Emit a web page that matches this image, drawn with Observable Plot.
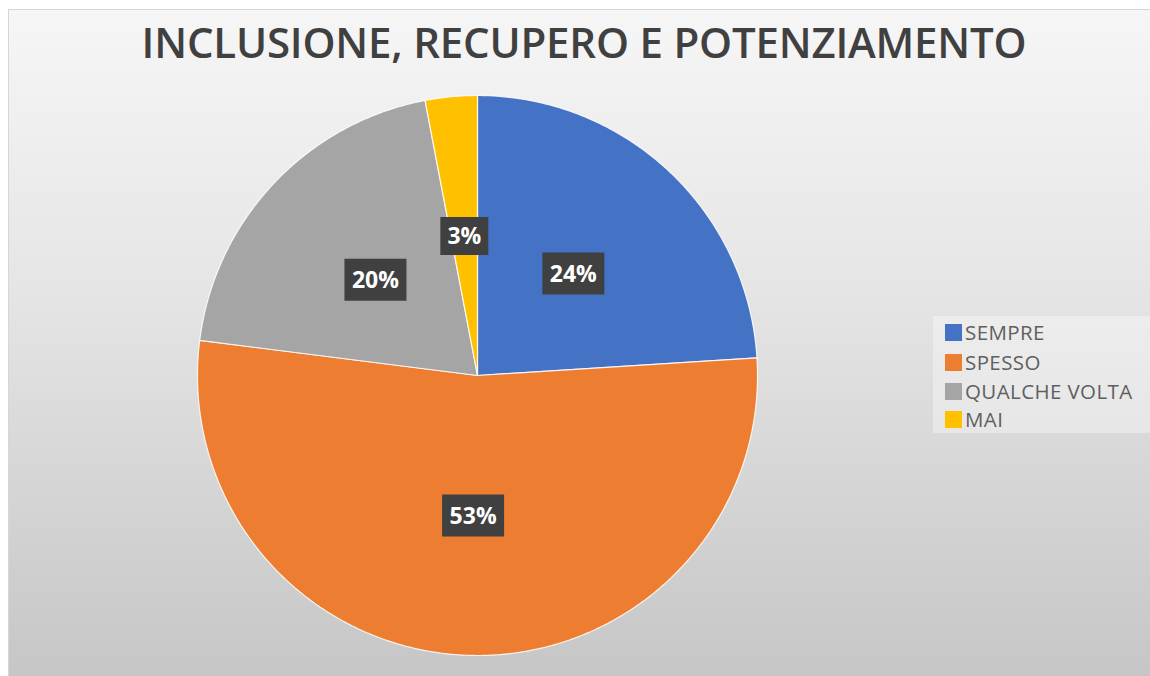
<!DOCTYPE html>
<html>
<head>
<meta charset="utf-8">
<script src="https://cdn.jsdelivr.net/npm/d3@7"></script>
<script src="https://cdn.jsdelivr.net/npm/@observablehq/plot@0.6"></script>
<style>
  html, body { margin: 0; padding: 0; background: #ffffff; }
  body { width: 1150px; height: 676px; overflow: hidden; position: relative; font-family: "Open Sans", sans-serif; }
  #frame {
    position: absolute; left: 8px; top: 9px; width: 1142px; height: 667px;
    background: linear-gradient(to bottom, #f6f6f6 0%, #e6e6e6 40%, #c6c6c6 100%);
    box-shadow: inset 1px 1px 0 #d6d6d6;
  }
  #title {
    position: absolute; left: 5px; top: 2px; width: 1142px; height: 70px;
    text-align: center; font-family: "Open Sans", sans-serif; font-weight: 600;
    font-size: 42px; line-height: 62px; color: #404040; letter-spacing: -0.2px;
  }
  #chart { position: absolute; left: 0; top: 70px; }
  #legend {
    position: absolute; left: 925px; top: 307px; width: 217px; height: 117px;
    background: rgba(255,255,255,0.35);
  }
  .item { position: absolute; left: 12px; height: 20px; display: flex; align-items: center; }
  .sw { width: 17px; height: 17px; margin-right: 3px; }
  .lab { font-family: "Open Sans", sans-serif; font-size: 20.5px; color: #5f5f5f; line-height: 20px; letter-spacing: 0.4px; }
</style>
</head>
<body>
<div id="frame">
  <div id="title">INCLUSIONE, RECUPERO E POTENZIAMENTO</div>
  <div id="chart"></div>
  <div id="legend"></div>
</div>
<script>
const categories = ["SEMPRE", "SPESSO", "QUALCHE VOLTA", "MAI"];
const values = [24, 53, 20, 3];
const colors = ["#4472C4", "#ED7D31", "#A5A5A5", "#FFC000"];
const labelTexts = ["24%", "53%", "20%", "3%"];

const total = d3.sum(values);
const TAU = Math.PI * 2;

// wedge polygons in unit-circle coordinates (angle clockwise from 12 o'clock)
const wedgePoints = [];
const labelData = [];
let acc = 0;
categories.forEach((cat, i) => {
  const a0 = acc / total * TAU;
  acc += values[i];
  const a1 = acc / total * TAU;
  wedgePoints.push({cat, x: 0, y: 0});
  const n = Math.max(2, Math.ceil((a1 - a0) / (Math.PI / 360)));
  for (let k = 0; k <= n; k++) {
    const a = a0 + (a1 - a0) * k / n;
    wedgePoints.push({cat, x: Math.sin(a), y: Math.cos(a)});
  }
  wedgePoints.push({cat, x: 0, y: 0});
  const am = (a0 + a1) / 2;
  labelData.push({cat, text: labelTexts[i], x: 0.5 * Math.sin(am), y: 0.5 * Math.cos(am)});
});

const wideBox = {draw(ctx) { ctx.rect(-31, -21, 62, 42); }};
const narrowBox = {draw(ctx) { ctx.rect(-24, -19, 48, 38); }};

const W = 1142, H = 597;
const cx = 469, cy = 296, R = 280;

const chart = Plot.plot({
  width: W,
  height: H,
  marginLeft: cx - R,
  marginRight: W - (cx + R),
  marginTop: cy - R,
  marginBottom: H - (cy + R),
  style: {background: "transparent", overflow: "visible"},
  x: {domain: [-1, 1], axis: null},
  y: {domain: [-1, 1], axis: null},
  color: {domain: categories, range: colors},
  marks: [
    Plot.line(wedgePoints, {x: "x", y: "y", z: "cat", fill: "cat", stroke: "#ffffff", strokeOpacity: 0.85, strokeWidth: 1.2, strokeLinejoin: "round", curve: "linear"}),
    Plot.dot(labelData.filter(d => d.text.length > 2), {x: "x", y: "y", symbol: wideBox, fill: "#404040", stroke: null}),
    Plot.dot(labelData.filter(d => d.text.length <= 2), {x: "x", y: "y", symbol: narrowBox, fill: "#404040", stroke: null}),
    Plot.text(labelData, {x: "x", y: "y", text: "text", fill: "#ffffff", fontSize: 23, fontWeight: "bold", fontFamily: "Open Sans", dy: 1})
  ]
});
document.getElementById("chart").appendChild(chart);

const legend = document.getElementById("legend");
const rowTops = [6, 36, 65, 93];
categories.forEach((cat, i) => {
  const it = document.createElement("div");
  it.className = "item";
  it.style.top = rowTops[i] + "px";
  const sw = document.createElement("div");
  sw.className = "sw";
  sw.style.background = colors[i];
  const lab = document.createElement("span");
  lab.className = "lab";
  lab.textContent = cat;
  it.appendChild(sw);
  it.appendChild(lab);
  legend.appendChild(it);
});
</script>
</body>
</html>
